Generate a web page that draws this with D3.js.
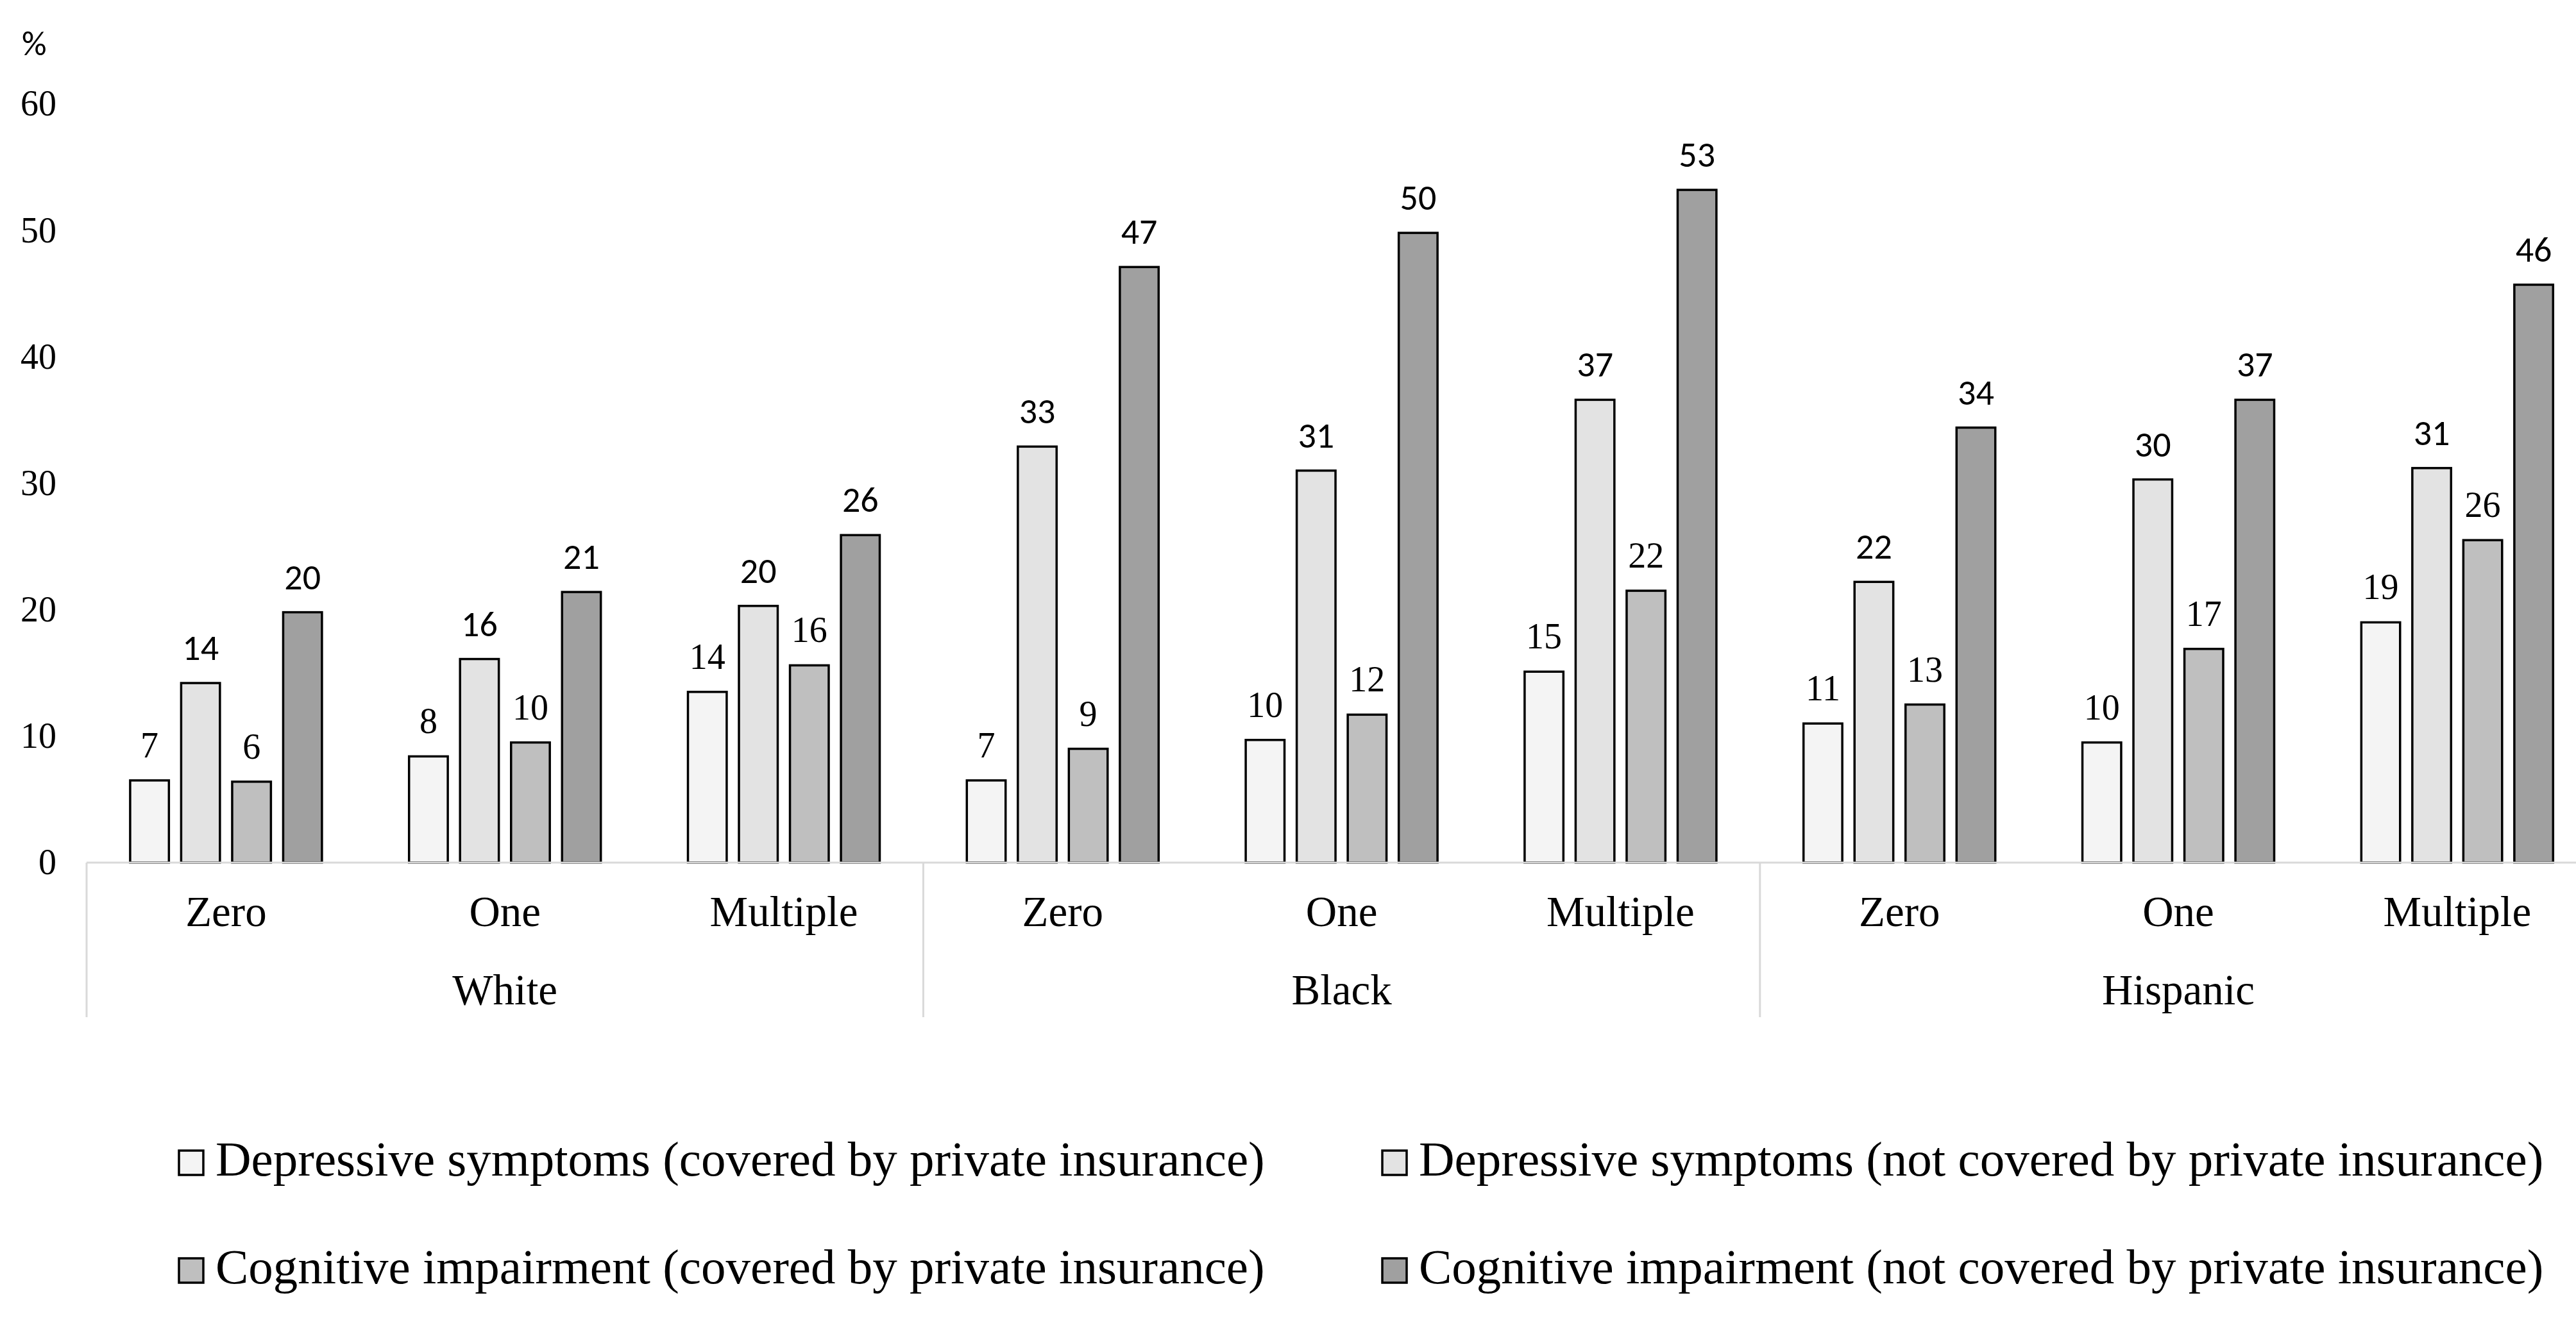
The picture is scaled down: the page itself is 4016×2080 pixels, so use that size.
<!DOCTYPE html>
<html>
<head>
<meta charset="utf-8">
<script src="https://cdn.jsdelivr.net/npm/d3@7"></script>
<style>
  html, body { margin: 0; padding: 0; background: #fff; }
  svg { display: block; }
</style>
</head>
<body>
<div id="chart"></div>
<script>
// Data
const groups = ['White', 'Black', 'Hispanic'];
const counts = ['Zero', 'One', 'Multiple'];
const seriesNames = [
    'Depressive symptoms (covered by private insurance)',
    'Depressive symptoms (not covered by private insurance)',
    'Cognitive impairment (covered by private insurance)',
    'Cognitive impairment (not covered by private insurance)'
];
// one value per group x count, in order White Zero..Hispanic Multiple
const depCovered    = [6.5, 8.4, 13.5, 6.5, 9.7, 15.1, 11.0, 9.5, 19.0];
const depNotCovered = [14.2, 16.1, 20.3, 32.9, 31.0, 36.6, 22.2, 30.3, 31.2];
const cogCovered    = [6.4, 9.5, 15.6, 9.0, 11.7, 21.5, 12.5, 16.9, 25.5];
const cogNotCovered = [19.8, 21.4, 25.9, 47.1, 49.8, 53.2, 34.4, 36.6, 45.7];
const yTicks = [0, 10, 20, 30, 40, 50, 60];

const seriesValues = [depCovered, depNotCovered, cogCovered, cogNotCovered];
const colors = ['#f4f4f4', '#e3e3e3', '#bfbfbf', '#a0a0a0'];
const serif = '"Liberation Serif", "Times New Roman", serif';
const sans = 'Carlito, Lato, "Open Sans", sans-serif';
// the data labels alternate fonts in the original
const labelFonts = [serif, sans, serif, sans];

const W = 4016, H = 2080;
const plotLeft = 135, catWidth = 434.8;
const y0 = 1345, y60 = 162;

// build rows
const keys = [];
groups.forEach(g => counts.forEach(c => keys.push(g + '|' + c)));
const rows = keys.map((k, i) => ({
    key: k,
    group: k.split('|')[0],
    count: k.split('|')[1],
    values: seriesValues.map((arr, s) => ({series: s, value: arr[i]}))
}));

const svg = d3.select('#chart')
    .append('svg')
    .attr('width', W)
    .attr('height', H);

const x0 = d3.scaleBand()
    .domain(keys)
    .range([plotLeft, plotLeft + catWidth * keys.length])
    .paddingInner(0)
    .paddingOuter(0);

const x1 = d3.scaleBand()
    .domain(d3.range(seriesValues.length))
    .range([(catWidth - 299) / 2, (catWidth + 299) / 2])
    .paddingInner(0.24)
    .paddingOuter(0);

const y = d3.scaleLinear()
    .domain([0, 60])
    .range([y0, y60]);

// y axis, labels only
const yAxis = svg.append('g')
    .attr('transform', `translate(${plotLeft},0)`)
    .call(d3.axisLeft(y).tickValues(yTicks).tickSize(0).tickPadding(47));
yAxis.select('.domain').remove();
yAxis.selectAll('text')
    .style('font-family', serif)
    .style('font-size', '56px')
    .attr('fill', '#000');

svg.append('text')
    .attr('x', 34)
    .attr('y', 86)
    .style('font-family', sans)
    .style('font-size', '54px')
    .text('%');

// bars
const cluster = svg.selectAll('.cluster')
    .data(rows)
    .enter().append('g')
    .attr('class', 'cluster')
    .attr('transform', d => `translate(${x0(d.key)},0)`);

cluster.selectAll('rect')
    .data(d => d.values)
    .enter().append('rect')
    .attr('x', d => x1(d.series))
    .attr('y', d => y(d.value))
    .attr('width', x1.bandwidth())
    .attr('height', d => y0 - y(d.value))
    .attr('fill', d => colors[d.series])
    .attr('stroke', '#000')
    .attr('stroke-width', 3.5);

cluster.selectAll('.value-label')
    .data(d => d.values)
    .enter().append('text')
    .attr('class', 'value-label')
    .attr('x', d => x1(d.series) + x1.bandwidth() / 2)
    .attr('y', d => y(d.value) - 36)
    .attr('text-anchor', 'middle')
    .style('font-family', d => labelFonts[d.series])
    .style('font-size', d => d.series % 2 ? '56px' : '56px')
    .text(d => Math.round(d.value));

// x axis baseline and category labels
svg.append('line')
    .attr('x1', plotLeft)
    .attr('x2', x0.range()[1])
    .attr('y1', y0)
    .attr('y2', y0)
    .attr('stroke', '#d9d9d9')
    .attr('stroke-width', 3);

const xAxis = svg.append('g')
    .attr('transform', `translate(0,${y0})`)
    .call(d3.axisBottom(x0).tickSize(0).tickFormat(k => k.split('|')[1]));
xAxis.select('.domain').remove();
xAxis.selectAll('text')
    .attr('y', 99)
    .attr('dy', 0)
    .attr('fill', '#000')
    .style('font-family', serif)
    .style('font-size', '67px');

// group separators
const sepX = groups.map((g, i) => x0(keys[i * counts.length])).concat([x0.range()[1]]);
svg.selectAll('.sep')
    .data(sepX)
    .enter().append('line')
    .attr('class', 'sep')
    .attr('x1', d => d)
    .attr('x2', d => d)
    .attr('y1', y0)
    .attr('y2', 1586)
    .attr('stroke', '#d9d9d9')
    .attr('stroke-width', 3);

svg.selectAll('.group-label')
    .data(groups)
    .enter().append('text')
    .attr('class', 'group-label')
    .attr('x', (g, i) => x0(keys[i * counts.length + 1]) + x0.bandwidth() / 2)
    .attr('y', 1566)
    .attr('text-anchor', 'middle')
    .style('font-family', serif)
    .style('font-size', '67px')
    .text(d => d);

// legend, 2 columns x 2 rows
const legendCols = [279, 2155];
const legendRows = [1833, 2001];
const legend = svg.selectAll('.legend-item')
    .data(seriesNames)
    .enter().append('g')
    .attr('class', 'legend-item')
    .attr('transform', (d, i) => `translate(${legendCols[i % 2]},${legendRows[Math.floor(i / 2)]})`);

legend.append('rect')
    .attr('x', 0)
    .attr('y', -39)
    .attr('width', 38)
    .attr('height', 38)
    .attr('fill', (d, i) => colors[i])
    .attr('stroke', '#000')
    .attr('stroke-width', 3.5);

legend.append('text')
    .attr('x', 57)
    .attr('y', 0)
    .style('font-family', serif)
    .style('font-size', '77px')
    .text(d => d);
</script>
</body>
</html>
